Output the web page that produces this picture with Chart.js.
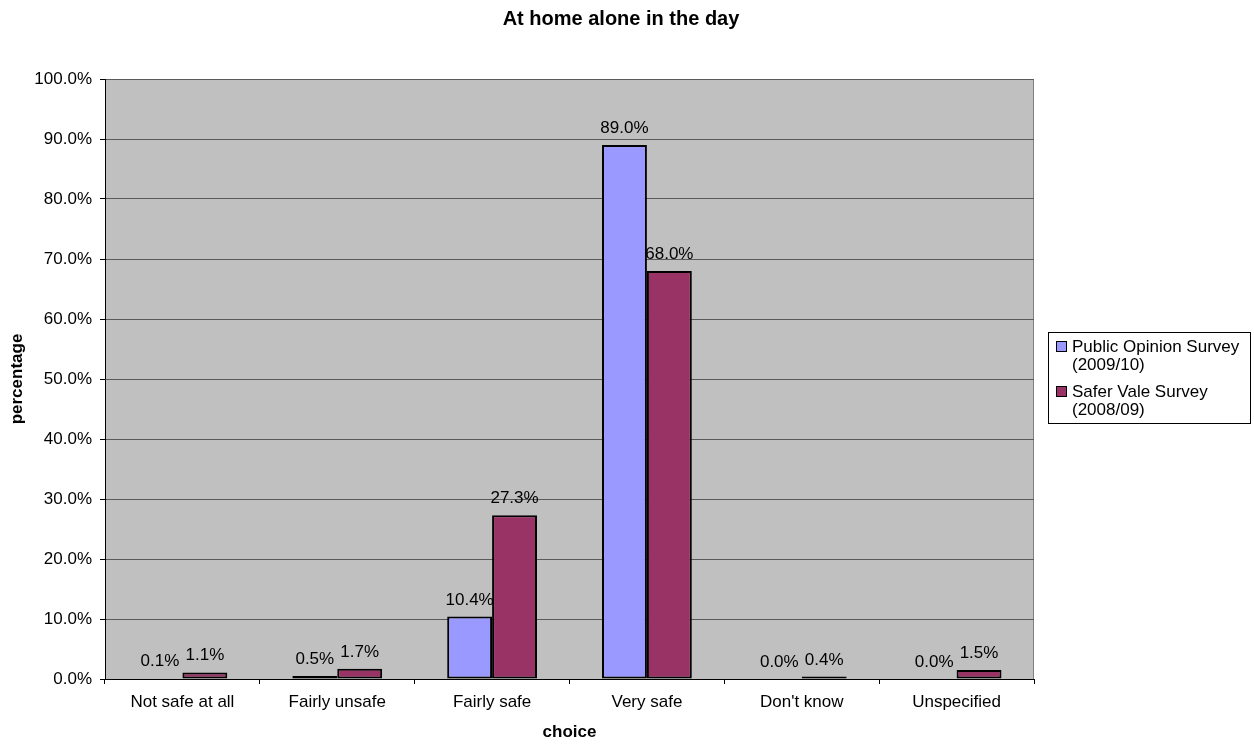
<!DOCTYPE html>
<html>
<head>
<meta charset="utf-8">
<script src="https://cdn.jsdelivr.net/npm/chart.js@4.4.0/dist/chart.umd.min.js"></script>
<style>
  html, body { margin: 0; padding: 0; background: #fff; }
  #wrap { width: 1254px; height: 744px; position: relative; }
</style>
</head>
<body>
<div id="wrap"><canvas id="chart"></canvas></div>
<script>
const chartTitle = "At home alone in the day";
const categories = ["Not safe at all", "Fairly unsafe", "Fairly safe", "Very safe", "Don't know", "Unspecified"];
const publicOpinion = [0.1, 0.5, 10.4, 89.0, 0.0, 0.0];
const saferVale = [1.1, 1.7, 27.3, 68.0, 0.4, 1.5];
const seriesLabels = [["Public Opinion Survey", "(2009/10)"], ["Safer Vale Survey", "(2008/09)"]];
const seriesColors = ["#9999FF", "#993366"];
const yTicks = [0, 10, 20, 30, 40, 50, 60, 70, 80, 90, 100];

const FONT = "'Liberation Sans', Arial, sans-serif";

// plot background + right border
const plotBg = {
    id: "plotBg",
    beforeDraw(chart) {
        const { ctx, chartArea: a } = chart;
        ctx.save();
        ctx.fillStyle = "#C0C0C0";
        ctx.fillRect(a.left, a.top, a.right - a.left, a.bottom - a.top);
        ctx.strokeStyle = "#808080";
        ctx.lineWidth = 1;
        ctx.beginPath();
        ctx.moveTo(a.right - 0.5, a.top);
        ctx.lineTo(a.right - 0.5, a.bottom);
        ctx.stroke();
        ctx.restore();
    }
};

// value labels above bars, title and legend
const extras = {
    id: "extras",
    afterDatasetsDraw(chart) {
        const ctx = chart.ctx;
        ctx.save();
        ctx.font = `17px ${FONT}`;
        ctx.fillStyle = "#000";
        ctx.textAlign = "center";
        ctx.textBaseline = "alphabetic";
        chart.data.datasets.forEach((ds, di) => {
            chart.getDatasetMeta(di).data.forEach((el, i) => {
                ctx.fillText(ds.data[i].toFixed(1) + "%", el.x, el.y - 12);
            });
        });
        ctx.restore();
    },
    afterDraw(chart) {
        const ctx = chart.ctx;
        ctx.save();
        ctx.fillStyle = "#000";
        ctx.font = `bold 20px ${FONT}`;
        ctx.textAlign = "center";
        ctx.textBaseline = "alphabetic";
        ctx.fillText(chartTitle, 621, 25);

        // legend
        ctx.strokeStyle = "#000";
        ctx.lineWidth = 1;
        ctx.strokeRect(1048.5, 332.5, 202, 91);
        ctx.font = `17px ${FONT}`;
        ctx.textAlign = "left";
        ctx.textBaseline = "middle";
        const starts = [347, 392];
        seriesLabels.forEach((lines, i) => {
            const y = starts[i];
            ctx.fillStyle = seriesColors[i];
            ctx.fillRect(1056.5, y - 5.5, 10, 10);
            ctx.strokeRect(1056.5, y - 5.5, 10, 10);
            ctx.fillStyle = "#000";
            lines.forEach((t, j) => ctx.fillText(t, 1072, y + j * 18));
        });
        ctx.restore();
    }
};

new Chart(document.getElementById("chart"), {
    type: "bar",
    data: {
        labels: categories,
        datasets: [
            { label: seriesLabels[0].join(" "), data: publicOpinion, backgroundColor: seriesColors[0], borderColor: "#000", borderWidth: 2, borderSkipped: false },
            { label: seriesLabels[1].join(" "), data: saferVale, backgroundColor: seriesColors[1], borderColor: "#000", borderWidth: 2, borderSkipped: false }
        ]
    },
    options: {
        responsive: true, maintainAspectRatio: false, animation: false,
        categoryPercentage: 0.58, barPercentage: 1,
        layout: { padding: { left: 0, right: 220, top: 79, bottom: 0 } },
        plugins: { legend: { display: false }, title: { display: false }, tooltip: { enabled: false } },
        scales: {
            x: {
                grid: { offset: true, drawOnChartArea: false, tickLength: 5, tickColor: "#000" },
                border: { color: "#000", width: 1 },
                ticks: { font: { family: FONT, size: 17 }, color: "#000", padding: 8, maxRotation: 0 },
                title: { display: true, text: "choice", font: { family: FONT, size: 17, weight: "bold" }, color: "#000", padding: { top: 0, bottom: 1 } },
                afterFit: s => { s.height = 65; }
            },
            y: {
                min: 0, max: 100,
                afterBuildTicks: s => { s.ticks = yTicks.map(v => ({ value: v })); },
                grid: { color: "#5a5a5a", tickLength: 5, tickColor: "#000" },
                border: { color: "#000", width: 1 },
                ticks: { font: { family: FONT, size: 17 }, color: "#000", padding: 8, callback: v => v.toFixed(1) + "%" },
                title: { display: true, text: "percentage", font: { family: FONT, size: 17, weight: "bold" }, color: "#000", padding: { top: 7, bottom: 0 } },
                afterFit: s => { s.width = 105; }
            }
        }
    },
    plugins: [plotBg, extras]
});
</script>
</body>
</html>
